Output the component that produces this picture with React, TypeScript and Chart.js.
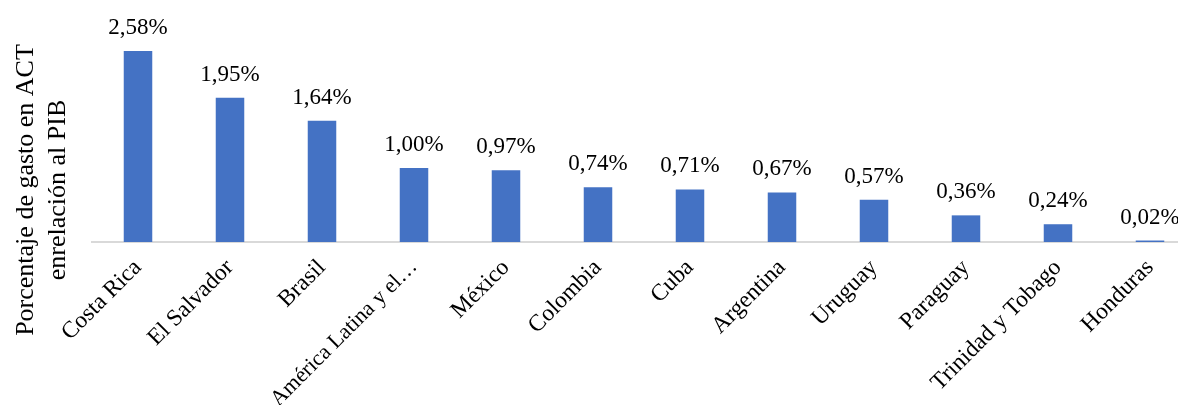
import React, { useEffect, useRef } from "react";
import { Chart, registerables } from "chart.js";

Chart.register(...registerables);

const categories = [
  "Costa Rica",
  "El Salvador",
  "Brasil",
  "América Latina y el…",
  "México",
  "Colombia",
  "Cuba",
  "Argentina",
  "Uruguay",
  "Paraguay",
  "Trinidad y Tobago",
  "Honduras",
];
const values = [2.58, 1.95, 1.64, 1.0, 0.97, 0.74, 0.71, 0.67, 0.57, 0.36, 0.24, 0.02];
const yTitleLines = ["Porcentaje de gasto en ACT", "enrelación al PIB"];

const FONT = "'Liberation Serif', 'Times New Roman', serif";

const labelPlugin = {
  id: "barLabels",
  afterDatasetsDraw(chart: any) {
    const ctx = chart.ctx;
    const meta = chart.getDatasetMeta(0);
    ctx.save();
    ctx.font = `23px ${FONT}`;
    ctx.fillStyle = "#000";
    ctx.textAlign = "center";
    ctx.textBaseline = "alphabetic";
    meta.data.forEach((bar: any, i: number) => {
      const v = values[i];
      const txt = v.toFixed(2).replace(".", ",") + "%";
      ctx.fillText(txt, bar.x, bar.y - 17);
    });
    ctx.restore();
  },
};

const titlePlugin = {
  id: "yTitle",
  afterDraw(chart: any) {
    const ctx = chart.ctx;
    ctx.save();
    ctx.font = `26px ${FONT}`;
    ctx.fillStyle = "#000";
    ctx.textAlign = "center";
    ctx.textBaseline = "middle";
    const cy = 190;
    const xs = [26, 58];
    yTitleLines.forEach((line, i) => {
      ctx.save();
      ctx.translate(xs[i], cy);
      ctx.rotate(-Math.PI / 2);
      ctx.fillText(line, 0, 0);
      ctx.restore();
    });
    ctx.restore();
  },
};

export default function App() {
  const ref = useRef<HTMLCanvasElement | null>(null);
  useEffect(() => {
    if (!ref.current) return;
    const chart = new Chart(ref.current, {
      type: "bar",
      data: {
        labels: categories,
        datasets: [
          {
            data: values,
            backgroundColor: "#4472C4",
            categoryPercentage: 1,
            barPercentage: 0.31,
          },
        ],
      },
      options: {
        animation: false,
        responsive: false,
        devicePixelRatio: 1,
        layout: { padding: 0 },
        plugins: {
          legend: { display: false },
          tooltip: { enabled: false },
        },
        scales: {
          x: {
            grid: { display: false },
            border: { color: "#d9d9d9", width: 2 },
            ticks: {
              autoSkip: false,
              minRotation: 45,
              maxRotation: 45,
              padding: 4,
              color: "#000",
              font: (c: any) => ({ family: FONT, size: c.index === 3 ? 22 : 23.5 }),
            },
            afterFit(scale: any) {
              scale.height = 163;
            },
          },
          y: {
            min: 0,
            max: 3.27,
            grid: { display: false },
            border: { display: false },
            ticks: { display: false },
            afterFit(scale: any) {
              scale.width = 92;
            },
          },
        },
      },
      plugins: [labelPlugin, titlePlugin],
    });
    return () => chart.destroy();
  }, []);
  return (
    <div
      style={{
        position: "fixed",
        left: 0,
        top: 0,
        width: 1178,
        height: 405,
        overflow: "hidden",
        background: "#fff",
      }}
    >
      <canvas ref={ref} width={1196} height={405} style={{ width: 1196, height: 405 }} />
    </div>
  );
}
